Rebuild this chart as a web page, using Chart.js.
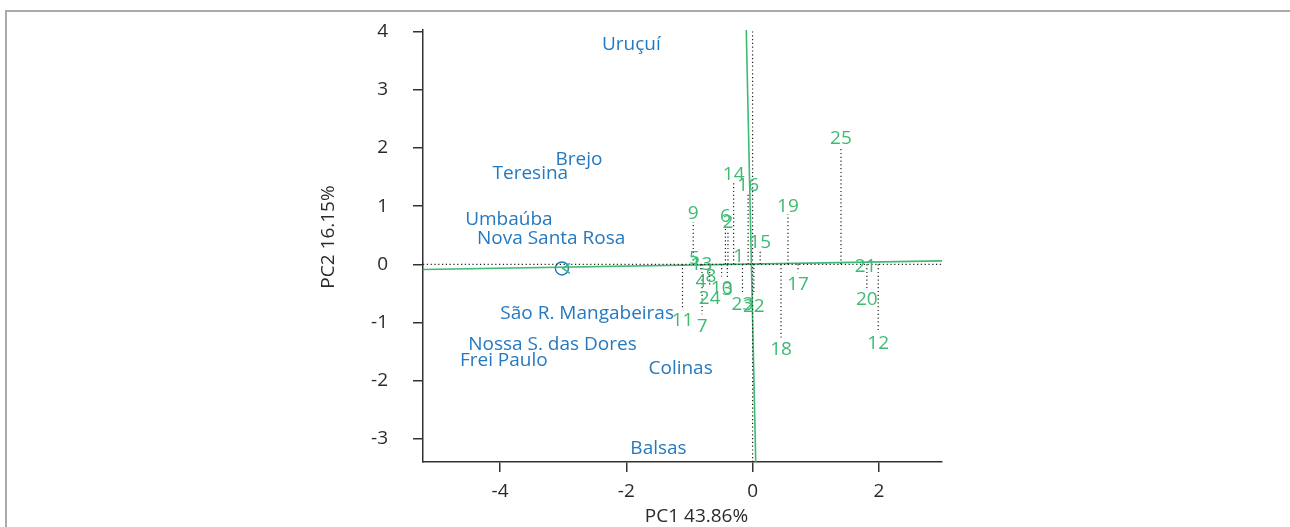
<!DOCTYPE html>
<html>
<head>
<meta charset="utf-8">
<script src="https://cdn.jsdelivr.net/npm/chart.js@4.4.1/dist/chart.umd.min.js"></script>
<style>
  html, body { margin:0; padding:0; background:#fff; }
  #wrap { width:1290px; height:527px; }
</style>
</head>
<body>
<div id="wrap"><canvas id="biplot" width="1290" height="527"></canvas></div>
<script>
// municipalities (blue)
const siteNames = ["Uruçuí","Brejo","Teresina","Umbaúba","Nova Santa Rosa","São R. Mangabeiras","Nossa S. das Dores","Frei Paulo","Colinas","Balsas"];
const siteX = [-1.92,-2.75,-3.52,-3.86,-3.19,-2.62,-3.17,-3.94,-1.14,-1.49];
const siteY = [3.82,1.83,1.60,0.81,0.48,-0.82,-1.34,-1.63,-1.76,-3.13];

// variables (green), drawn with a dotted drop to PC2 = 0
const itemLabels = ["1","2","3","4","5","6","7","8","9","10","11","12","13","14","15","16","17","18","19","20","21","22","23","24","25"];
const itemX = [-0.22,-0.39,-0.40,-0.82,-0.92,-0.43,-0.80,-0.66,-0.94,-0.49,-1.11,1.99,-0.81,-0.30,0.12,-0.07,0.72,0.45,0.56,1.81,1.79,0.02,-0.16,-0.68,1.40];
const itemY = [0.17,0.76,-0.40,-0.26,0.13,0.86,-1.03,-0.17,0.90,-0.38,-0.93,-1.33,0.03,1.58,0.40,1.39,-0.31,-1.43,1.03,-0.58,0.00,-0.69,-0.65,-0.55,2.19];

// supplementary point + the two green axes
const centre = [-3.02, -0.07];
const axisH = [[-5.22,-0.09],[3.0,0.06]];
const axisV = [[-0.10,4.03],[0.05,-3.40]];

const xTicks = [-4,-2,0,2];
const yTicks = [-3,-2,-1,0,1,2,3,4];
const xTitle = "PC1 43.86%";
const yTitle = "PC2 16.15%";

const BLUE = "#2479c1";
const GREEN = "#3dbb73";
const FONT = "'Open Sans', 'Noto Sans', sans-serif";

const pts = a => a.map(p => ({x:p[0], y:p[1]}));

const overlay = {
  id:"overlay",
  beforeDraw(chart){
    const ctx = chart.ctx;
    ctx.save();
    ctx.fillStyle = "#fff";
    ctx.fillRect(0,0,chart.width,chart.height);
    ctx.strokeStyle = "#aaa";
    ctx.lineWidth = 2;
    ctx.beginPath();
    ctx.moveTo(6, 540); ctx.lineTo(6, 11); ctx.lineTo(1300, 11);
    ctx.stroke();
    ctx.restore();
  },
  afterDatasetsDraw(chart){
    const ctx = chart.ctx, xs = chart.scales.x, ys = chart.scales.y;
    const y0 = ys.getPixelForValue(0);
    ctx.save();

    // dotted drops
    ctx.strokeStyle = "#222";
    ctx.lineWidth = 1.2;
    ctx.setLineDash([1.2,2.6]);
    itemX.forEach((v,i) => {
      const px = xs.getPixelForValue(v), py = ys.getPixelForValue(itemY[i]);
      if (Math.abs(py - y0) < 14) return;
      const end = py < y0 ? py + 10 : py - 10;
      ctx.beginPath(); ctx.moveTo(px, y0); ctx.lineTo(px, end); ctx.stroke();
    });
    ctx.setLineDash([]);

    // arrow tip at the centre point
    const cx = xs.getPixelForValue(centre[0]), cy = ys.getPixelForValue(centre[1]);
    ctx.strokeStyle = GREEN; ctx.lineWidth = 1.5;
    ctx.beginPath(); ctx.moveTo(cx+8, cy-5); ctx.lineTo(cx+1, cy); ctx.lineTo(cx+8, cy+5); ctx.stroke();

    // labels (nudged so the glyphs sit centred on the point)
    ctx.font = "19px " + FONT;
    ctx.textAlign = "center"; ctx.textBaseline = "middle";
    ctx.fillStyle = BLUE;
    siteNames.forEach((s,i) => ctx.fillText(s, xs.getPixelForValue(siteX[i]), ys.getPixelForValue(siteY[i]) + 2));
    ctx.fillStyle = GREEN;
    itemLabels.forEach((s,i) => ctx.fillText(s, xs.getPixelForValue(itemX[i]), ys.getPixelForValue(itemY[i]) + 2));

    // axis titles
    ctx.fillStyle = "#2a2a2a";
    ctx.fillText(xTitle, (chart.chartArea.left + chart.chartArea.right)/2 + 14, 517);
    ctx.translate(329, (chart.chartArea.top + chart.chartArea.bottom)/2 - 9);
    ctx.rotate(-Math.PI/2);
    ctx.fillText(yTitle, 0, 0);
    ctx.restore();
  }
};

new Chart(document.getElementById("biplot"), {
  type:"scatter",
  data:{
    datasets:[
      {data:[{x:-5.22,y:0},{x:3.0,y:0}], showLine:true, borderColor:"#222", borderWidth:1.2, borderDash:[1.2,2.6], pointRadius:0},
      {data:[{x:0,y:-3.40},{x:0,y:4.03}], showLine:true, borderColor:"#222", borderWidth:1.2, borderDash:[1.2,2.6], pointRadius:0},
      {data:pts(axisH), showLine:true, borderColor:GREEN, borderWidth:1.6, pointRadius:0},
      {data:pts(axisV), showLine:true, borderColor:GREEN, borderWidth:1.6, pointRadius:0},
      {data:[{x:centre[0], y:centre[1]}], pointRadius:6.5, pointBorderWidth:1.5, pointBorderColor:BLUE, pointBackgroundColor:"rgba(0,0,0,0)"}
    ]
  },
  options:{
    responsive:false,
    animation:false,
    devicePixelRatio:1,
    layout:{padding:{left:0, top:30, right:348, bottom:0}},
    plugins:{legend:{display:false}, tooltip:{enabled:false}},
    scales:{
      x:{
        type:"linear", min:-5.22, max:3.0,
        afterBuildTicks:s => { s.ticks = xTicks.map(v => ({value:v})); },
        afterFit:s => { s.height = 65; s.paddingLeft = 0; s.paddingRight = 0; s.paddingTop = 0; s.paddingBottom = 0; },
        grid:{display:true, drawOnChartArea:false, drawTicks:true, tickLength:10, color:"#333", lineWidth:1.5},
        border:{display:true, color:"#333", width:1.5},
        ticks:{color:"#2a2a2a", padding:8, font:{size:19, family:FONT}, maxRotation:0, autoSkip:false}
      },
      y:{
        type:"linear", min:-3.40, max:4.03,
        afterBuildTicks:s => { s.ticks = yTicks.map(v => ({value:v})); },
        afterFit:s => { s.width = 423; s.paddingTop = 0; s.paddingBottom = 0; s.paddingLeft = 0; s.paddingRight = 0; },
        grid:{display:true, drawOnChartArea:false, drawTicks:true, tickLength:10, color:"#333", lineWidth:1.5},
        border:{display:true, color:"#333", width:1.5},
        ticks:{color:"#2a2a2a", padding:25, font:{size:19, family:FONT}, autoSkip:false}
      }
    }
  },
  plugins:[overlay]
});
</script>
</body>
</html>
